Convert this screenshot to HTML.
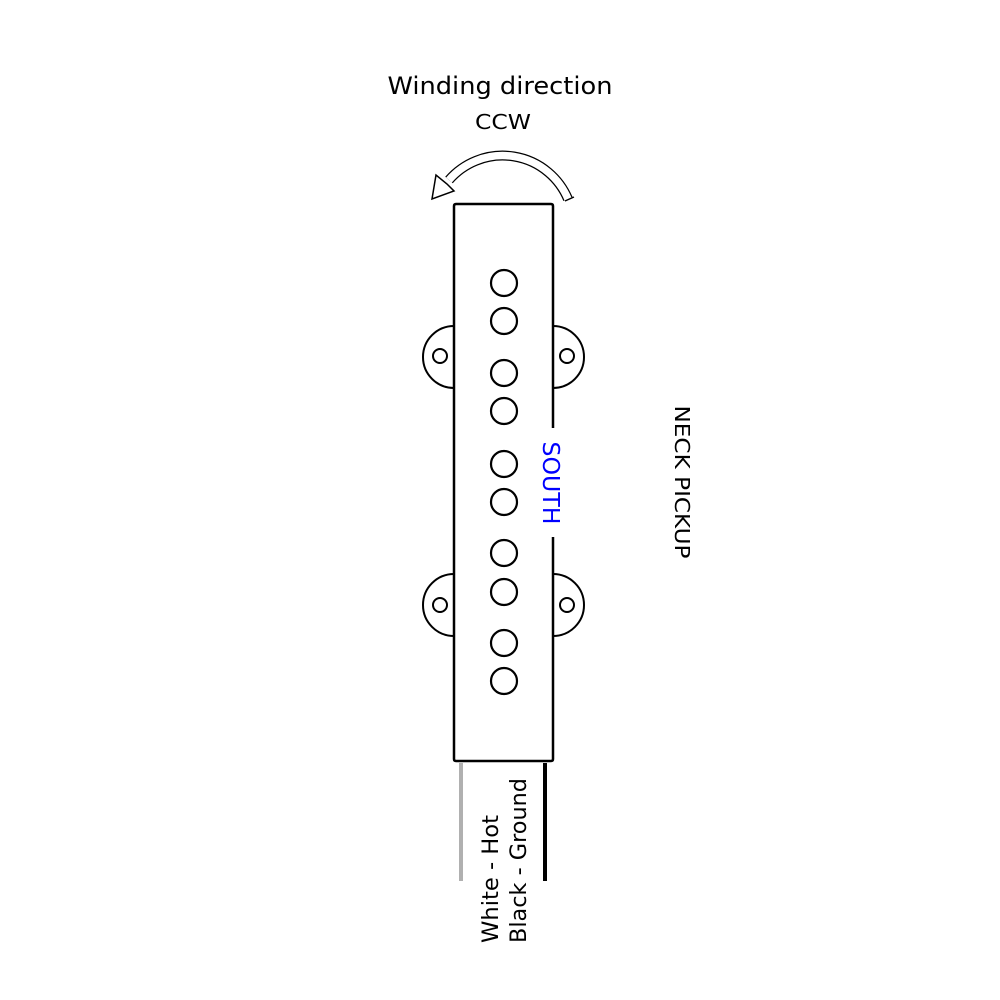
<!DOCTYPE html>
<html><head><style>body{margin:0;background:#fff}svg{display:block}</style></head>
<body>
<svg width="1000" height="1000" viewBox="0 0 1000 1000" xmlns="http://www.w3.org/2000/svg" font-family="DejaVu Sans, Liberation Sans, sans-serif">
<rect width="1000" height="1000" fill="#fff"/>
<text x="500" y="94" font-size="24" text-anchor="middle" textLength="225" lengthAdjust="spacingAndGlyphs">Winding direction</text>
<text x="503" y="129" font-size="20" text-anchor="middle" textLength="56" lengthAdjust="spacingAndGlyphs">CCW</text>
<!-- arrow -->
<path d="M568,199 A71,71 0 0 0 449,180" fill="none" stroke="#000" stroke-width="10"/>
<path d="M568,199 A71,71 0 0 0 449,180" fill="none" stroke="#fff" stroke-width="7.5"/>
<line x1="565" y1="201" x2="574" y2="197" stroke="#000" stroke-width="1.3"/>
<polygon points="436,175 432,199 454,191 447,184" fill="#fff" stroke="#000" stroke-width="1.5" stroke-linejoin="miter"/>
<!-- ears -->
<g fill="#fff" stroke="#000" stroke-width="2">
<path d="M454,326 A31,31 0 0 0 454,388"/>
<path d="M553,326 A31,31 0 0 1 553,388"/>
<path d="M454,574 A31,31 0 0 0 454,636"/>
<path d="M553,574 A31,31 0 0 1 553,636"/>
<circle cx="440" cy="356" r="7"/>
<circle cx="567" cy="356" r="7"/>
<circle cx="440" cy="605" r="7"/>
<circle cx="567" cy="605" r="7"/>
</g>
<!-- body -->
<path d="M553,428 L553,206 Q553,204 551,204 L456,204 Q454,204 454,206 L454,759 Q454,761 456,761 L551,761 Q553,761 553,759 L553,537" fill="none" stroke="#000" stroke-width="2.5"/>
<g fill="none" stroke="#000" stroke-width="2.2">
<circle cx="504" cy="283" r="13"/><circle cx="504" cy="321" r="13"/>
<circle cx="504" cy="373" r="13"/><circle cx="504" cy="411" r="13"/>
<circle cx="504" cy="464" r="13"/><circle cx="504" cy="502" r="13"/>
<circle cx="504" cy="553" r="13"/><circle cx="504" cy="592" r="13"/>
<circle cx="504" cy="643" r="13"/><circle cx="504" cy="681" r="13"/>
</g>
<text transform="translate(543,483) rotate(90)" font-size="23" fill="#0000ff" text-anchor="middle" textLength="83" lengthAdjust="spacingAndGlyphs">SOUTH</text>
<text transform="translate(675,482) rotate(90)" font-size="20" text-anchor="middle" textLength="153" lengthAdjust="spacingAndGlyphs">NECK PICKUP</text>
<!-- wires -->
<line x1="461" y1="763" x2="461" y2="881" stroke="#b0b0b0" stroke-width="4"/>
<line x1="545" y1="763" x2="545" y2="881" stroke="#000" stroke-width="4"/>
<text transform="translate(498,943) rotate(-90)" font-size="22" textLength="128" lengthAdjust="spacingAndGlyphs">White - Hot</text>
<text transform="translate(526,943) rotate(-90)" font-size="22" textLength="165" lengthAdjust="spacingAndGlyphs">Black - Ground</text>
</svg>
</body></html>
